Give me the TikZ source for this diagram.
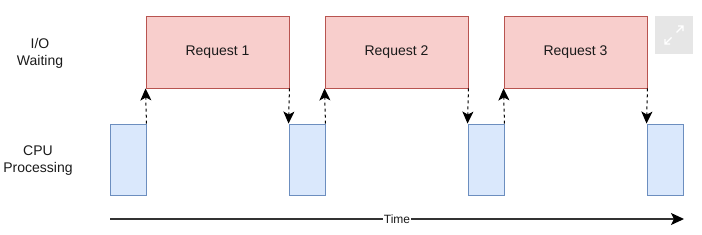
\documentclass[tikz,border=0pt]{standalone}
\usepackage{fontspec}
\setmainfont{Liberation Sans}
\usetikzlibrary{arrows.meta}
\definecolor{redfill}{HTML}{F8CECC}
\definecolor{redline}{HTML}{B85450}
\definecolor{bluefill}{HTML}{DAE8FC}
\definecolor{blueline}{HTML}{6C8EBF}
\definecolor{txt}{HTML}{1A1A1A}
\definecolor{icongray}{HTML}{E6E6E6}
\begin{document}
\begin{tikzpicture}[x=1bp,y=-1bp,
  reqbox/.style={draw=redline,fill=redfill,line width=0.9bp,minimum width=143bp,minimum height=72bp,inner sep=0pt,font=\fontsize{14bp}{16bp}\selectfont,text=txt},
  cpubox/.style={draw=blueline,fill=bluefill,line width=0.9bp,minimum width=36bp,minimum height=71bp,inner sep=0pt},
  rowlabel/.style={align=center,font=\fontsize{14bp}{17bp}\selectfont,text=txt},
  dasharrow/.style={line width=1bp,dash pattern=on 3bp off 3bp,-{Stealth[length=12bp,width=11bp,inset=3bp]}},
  axis/.style={line width=1.3bp,draw=black!80,-{Stealth[length=13bp,width=12bp,inset=3bp,black]}}
]
\useasboundingbox (0,0) rectangle (702,234);
\node[rowlabel] (io) at (40,53.5) {I/O\\Waiting};
\node[rowlabel] (cpu) at (38,160.5) {CPU\\Processing};

\node[reqbox] (r1) at (217.5,52) {Request 1};
\node[reqbox] (r2) at (396.5,52) {Request 2};
\node[reqbox] (r3) at (575.5,52) {Request 3};

\node[cpubox] (c1) at (128,159.5) {};
\node[cpubox] (c2) at (307,159.5) {};
\node[cpubox] (c3) at (486,159.5) {};
\node[cpubox] (c4) at (665,159.5) {};

\draw[dasharrow] (c1.north east) -- (r1.south west);
\draw[dasharrow] (r1.south east) -- (c2.north west);
\draw[dasharrow] (c2.north east) -- (r2.south west);
\draw[dasharrow] (r2.south east) -- (c3.north west);
\draw[dasharrow] (c3.north east) -- (r3.south west);
\draw[dasharrow] (r3.south east) -- (c4.north west);

\coordinate (t0) at (110,219);
\coordinate (t1) at (684,219);
\draw[axis] (t0) -- node[fill=white,inner sep=0.5bp,font=\fontsize{12bp}{14bp}\selectfont,text=txt] (time) {Time} (t1);

% expand icon
\node[fill=icongray,minimum size=38bp,inner sep=0pt] (icon) at (674,35) {};
\draw[white,line width=1.2bp] (676.5,32.5) -- (683,26) (678,26) -- (683,26) -- (683,31);
\draw[white,line width=1.2bp] (671.5,37.5) -- (665,44) (665,39) -- (665,44) -- (670,44);
\end{tikzpicture}
\end{document}
